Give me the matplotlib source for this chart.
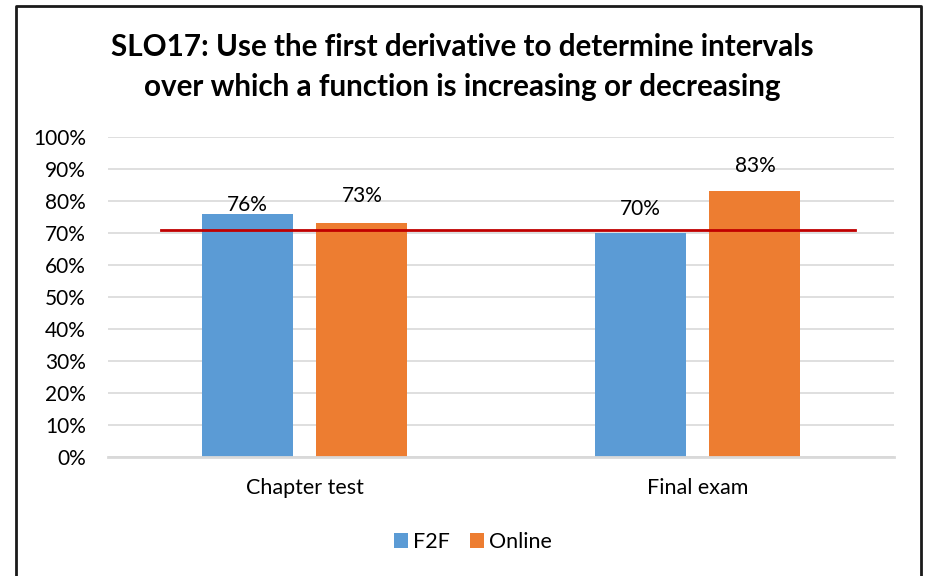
import matplotlib.pyplot as plt
from matplotlib.lines import Line2D
from matplotlib.patches import Patch
import numpy as np

# data
categories = ['Chapter test', 'Final exam']
f2f = [76, 70]
online = [73, 83]
target = 71
title = ('SLO17: Use the first derivative to determine intervals\n'
         'over which a function is increasing or decreasing')

BLUE = '#5B9BD5'
ORANGE = '#ED7D31'
GRID = '#D9D9D9'

plt.rcParams['font.family'] = ['Lato', 'DejaVu Sans']

fig = plt.figure(figsize=(9.25, 5.76), dpi=100)
ax = fig.add_axes([108 / 925, 1 - 457 / 576, 786 / 925, 320 / 576])

x = np.arange(len(categories))
w = 0.232
off = 0.146
b1 = ax.bar(x - off, f2f, w, color=BLUE, zorder=2)
b2 = ax.bar(x + off, online, w, color=ORANGE, zorder=2)

# target line
ax.plot([-0.365, 1.40], [target, target], color='#C00000', lw=2, zorder=3)

# data labels (pixel offsets above bar tops, as in the reference)
label_offsets = [[9, 24], [27, 25]]
for bars, vals, offs in ((b1, f2f, label_offsets[0]), (b2, online, label_offsets[1])):
    for rect, v, o in zip(bars, vals, offs):
        ax.annotate(f'{v}%', (rect.get_x() + rect.get_width() / 2, v),
                    xytext=(0, o * 0.72), textcoords='offset points',
                    ha='center', va='center', fontsize=15, color='#000000')

ax.set_xlim(-0.5, 1.5)
ax.set_ylim(0, 100)
ax.set_yticks(range(0, 101, 10))
ax.set_yticklabels([f'{t}%' for t in range(0, 101, 10)], fontsize=15)
ax.set_xticks(x)
ax.set_xticklabels(categories, fontsize=15.5)
ax.tick_params(axis='both', length=0)
ax.tick_params(axis='y', pad=16)
ax.tick_params(axis='x', pad=15)
ax.grid(axis='y', color=GRID, lw=1.2, zorder=0)
for s in ['top', 'right', 'left']:
    ax.spines[s].set_visible(False)
ax.spines['bottom'].set_color(GRID)
ax.spines['bottom'].set_linewidth(2)

fig.text(0.5, 1 - 67 / 576, title, ha='center', va='center',
         fontsize=21.3, fontweight='bold', linespacing=1.55)

handles = [Patch(facecolor=BLUE), Patch(facecolor=ORANGE)]
fig.legend(handles, ['F2F', 'Online'], loc='center', bbox_to_anchor=(473 / 925, 1 - 542 / 576),
           ncol=2, frameon=False, fontsize=15.5, handlelength=0.65, handleheight=0.65,
           handletextpad=0.25, columnspacing=0.9)

# chart border (bottom edge falls outside the image)
fig.add_artist(Line2D([16 / 925, 16 / 925, 921 / 925, 921 / 925],
                      [-0.05, 1 - 6 / 576, 1 - 6 / 576, -0.05],
                      transform=fig.transFigure, color='#1a1a1a', lw=2))

fig.savefig('out.png', dpi=100)
